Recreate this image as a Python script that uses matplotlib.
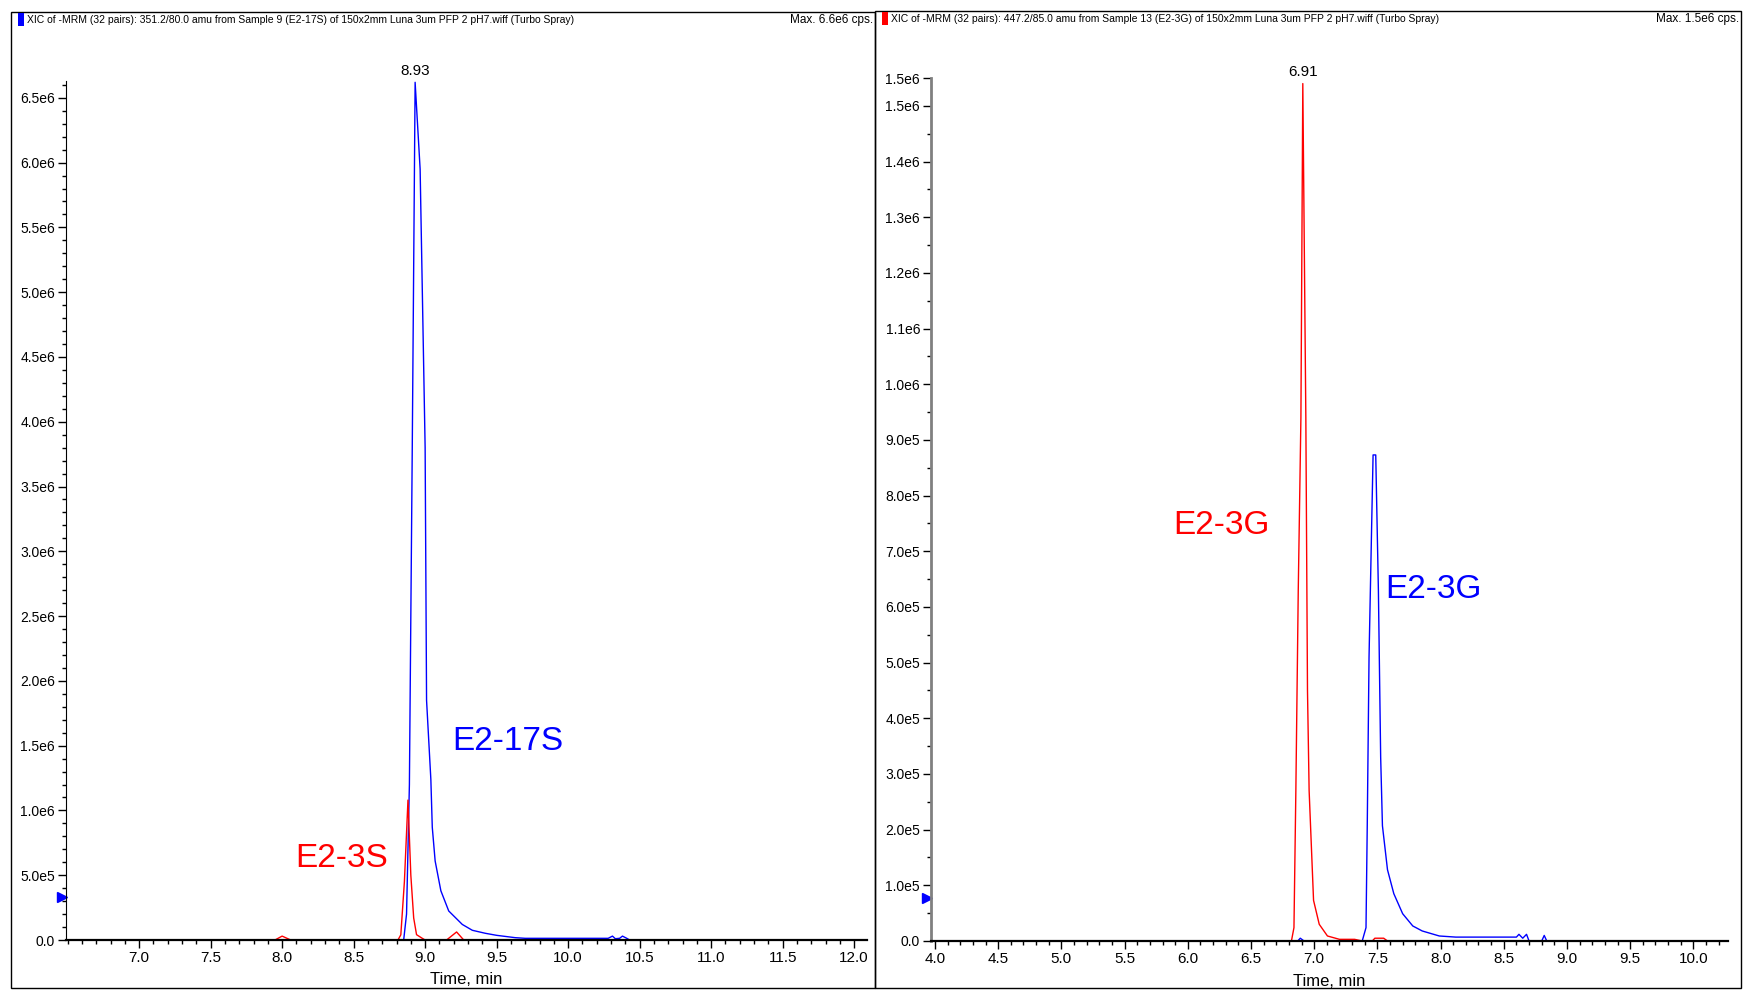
import matplotlib
matplotlib.use('Agg')
import matplotlib.pyplot as plt
import matplotlib.transforms as mtransforms
from matplotlib import font_manager
from matplotlib.patches import Rectangle
from matplotlib.ticker import FixedLocator, FixedFormatter, MultipleLocator

W, H = 1743, 991

# Sample 9 (E2-17S): 351.2/80.0 trace in blue, E2-3S trace in red
s9_blue_time = [6.49, 8.85, 8.87, 8.89, 8.91, 8.93, 8.965, 9.00, 9.01, 9.04, 9.05, 9.07,
                9.11, 9.165, 9.26, 9.33, 9.42, 9.50, 9.63, 9.70, 10.28, 10.31, 10.33,
                10.36, 10.38, 10.41, 10.43, 10.45, 12.09]
s9_blue_cps = [0, 0, 2.0e5, 1.2e6, 3.8e6, 6.62e6, 5.95e6, 3.8e6, 1.85e6, 1.24e6, 8.7e5, 6.1e5,
               3.8e5, 2.24e5, 1.2e5, 7.5e4, 5.2e4, 3.6e4, 1.8e4, 1.3e4, 1.3e4, 3.0e4, 1.0e4,
               1.3e4, 3.0e4, 1.3e4, 0, 0, 0]
s9_red_time = [6.49, 7.95, 8.00, 8.06, 8.81, 8.83, 8.855, 8.88, 8.90, 8.92, 8.94, 8.98, 9.00,
               9.15, 9.22, 9.27, 12.09]
s9_red_cps = [0, 0, 3.0e4, 0, 0, 4.0e4, 4.5e5, 1.08e6, 5.0e5, 1.7e5, 4.1e4, 1.3e4, 0,
              0, 6.2e4, 0, 0]

# Sample 13 (E2-3G): red and blue traces
s13_red_time = [3.97, 6.82, 6.84, 6.855, 6.874, 6.895, 6.91, 6.934, 6.947, 6.96, 6.995, 7.04,
                7.105, 7.20, 7.32, 7.38, 7.46, 7.48, 7.55, 7.58, 10.27]
s13_red_cps = [0, 0, 2.4e4, 2.7e5, 6.3e5, 9.4e5, 1.54e6, 9.4e5, 4.5e5, 2.7e5, 7.3e4, 3.0e4,
               9.0e3, 3.0e3, 3.0e3, 0, 0, 5.0e3, 5.0e3, 0, 0]
s13_blue_time = [3.97, 6.87, 6.89, 6.92, 7.38, 7.41, 7.42, 7.434, 7.455, 7.466, 7.487, 7.508,
                 7.526, 7.54, 7.58, 7.63, 7.70, 7.78, 7.855, 7.99, 8.12, 8.60, 8.62, 8.65,
                 8.68, 8.70, 8.80, 8.82, 8.84, 10.27]
s13_blue_cps = [0, 0, 5.0e3, 0, 0, 2.4e4, 2.1e5, 5.1e5, 7.5e5, 8.73e5, 8.73e5, 6.3e5,
                3.3e5, 2.07e5, 1.28e5, 8.5e4, 4.9e4, 2.7e4, 1.8e4, 9.0e3, 7.0e3, 7.0e3, 1.2e4, 5.0e3,
                1.2e4, 0, 0, 1.0e4, 0, 0]

left_xticks = [7.0, 7.5, 8.0, 8.5, 9.0, 9.5, 10.0, 10.5, 11.0, 11.5, 12.0]
left_yticks = [0, 5e5, 1.0e6, 1.5e6, 2.0e6, 2.5e6, 3.0e6, 3.5e6, 4.0e6, 4.5e6, 5.0e6, 5.5e6, 6.0e6, 6.5e6]
left_ylabels = ['0.0', '5.0e5', '1.0e6', '1.5e6', '2.0e6', '2.5e6', '3.0e6', '3.5e6', '4.0e6',
                '4.5e6', '5.0e6', '5.5e6', '6.0e6', '6.5e6']
right_xticks = [4.0, 4.5, 5.0, 5.5, 6.0, 6.5, 7.0, 7.5, 8.0, 8.5, 9.0, 9.5, 10.0]
right_yticks = [0, 1e5, 2e5, 3e5, 4e5, 5e5, 6e5, 7e5, 8e5, 9e5, 1.0e6, 1.1e6, 1.2e6, 1.3e6,
                1.4e6, 1.5e6, 1.55e6]
right_ylabels = ['0.0', '1.0e5', '2.0e5', '3.0e5', '4.0e5', '5.0e5', '6.0e5', '7.0e5', '8.0e5',
                 '9.0e5', '1.0e6', '1.1e6', '1.2e6', '1.3e6', '1.4e6', '1.5e6', '1.5e6']

left_header = ('XIC of -MRM (32 pairs): 351.2/80.0 amu from Sample 9 (E2-17S) of '
               '150x2mm Luna 3um PFP 2 pH7.wiff (Turbo Spray)')
right_header = ('XIC of -MRM (32 pairs): 447.2/85.0 amu from Sample 13 (E2-3G) of '
                '150x2mm Luna 3um PFP 2 pH7.wiff (Turbo Spray)')

names = {f.name for f in font_manager.fontManager.ttflist}
narrow = 'Liberation Sans Narrow' if 'Liberation Sans Narrow' in names else 'Liberation Sans'
plt.rcParams['font.family'] = [narrow, 'DejaVu Sans']

fig = plt.figure(figsize=(W / 100, H / 100), dpi=100)


def px_rect(x0, y0, x1, y1):
    return [x0 / W, 1 - y1 / H, (x1 - x0) / W, (y1 - y0) / H]


def panel(frame, box, header, max_text, box_color, xlim, ylim, xticks, yticks, ylabels,
          yminor, threshold, traces, labels, peak_trace):
    fx0, fy0, fx1, fy1 = frame
    fig.add_artist(Rectangle((fx0 / W, 1 - fy1 / H), (fx1 - fx0) / W, (fy1 - fy0) / H,
                             transform=fig.transFigure, fill=False, ec='black', lw=1))
    fig.add_artist(Rectangle(((fx0 + 7) / W, 1 - (fy0 + 14) / H), 6 / W, 13 / H,
                             transform=fig.transFigure, fc=box_color, ec='none'))
    fig.text((fx0 + 16) / W, 1 - (fy0 + 8) / H, header, fontsize=7.5, va='center', ha='left')
    fig.text((fx1 - 2) / W, 1 - (fy0 + 8) / H, max_text, fontsize=8.5, va='center', ha='right')

    ax = fig.add_axes(px_rect(*box))
    for t, v, c in traces:
        ax.plot(t, v, color=c, lw=1)
    ax.set_xlim(*xlim)
    ax.set_ylim(*ylim)
    for s in ('top', 'right'):
        ax.spines[s].set_visible(False)
    # keep the zero baseline of the traces hidden under the time axis
    ax.spines['bottom'].set_linewidth(1.6)
    ax.xaxis.set_major_locator(FixedLocator(xticks))
    ax.xaxis.set_major_formatter(FixedFormatter([f'{x:.1f}' for x in xticks]))
    ax.xaxis.set_minor_locator(MultipleLocator(0.1))
    ax.yaxis.set_major_locator(FixedLocator(yticks))
    ax.yaxis.set_major_formatter(FixedFormatter(ylabels))
    ax.yaxis.set_minor_locator(MultipleLocator(yminor))
    ax.tick_params(which='major', direction='out', length=6, width=1, pad=2)
    ax.tick_params(which='minor', direction='out', length=3, width=1)
    ax.tick_params(axis='x', labelsize=11)
    ax.tick_params(axis='y', labelsize=10)
    ax.set_xlabel('Time, min', fontsize=12)
    ax.xaxis.label.set_va('center')
    ax.xaxis.set_label_coords(0.5, -40 / (box[3] - box[1]))

    # threshold marker on the intensity axis
    shift = mtransforms.offset_copy(ax.transData, fig=fig, x=-4, y=0, units='dots')
    ax.plot([xlim[0]], [threshold], marker='>', color='blue', ms=7, clip_on=False,
            transform=shift, lw=0)

    # retention time of the tallest peak
    pt, pv = peak_trace
    i = max(range(len(pv)), key=lambda k: pv[k])
    ax.annotate(f'{pt[i]:.2f}', (pt[i], pv[i]), xytext=(0, 3), textcoords='offset points',
                ha='center', va='bottom', fontsize=11)

    for text, x, y, c in labels:
        ax.text(x, y, text, color=c, fontsize=24, ha='center', va='center')
    return ax


panel(frame=(11, 12, 875, 988), box=(66.2, 81, 867, 940), header=left_header,
      max_text='Max. 6.6e6 cps.', box_color='blue', xlim=(6.49, 12.09), ylim=(0, 6.63e6),
      xticks=left_xticks, yticks=left_yticks, ylabels=left_ylabels, yminor=1e5,
      threshold=3.3e5,
      traces=[(s9_blue_time, s9_blue_cps, 'blue'), (s9_red_time, s9_red_cps, 'red')],
      labels=[('E2-17S', 9.575, 1.53e6, 'blue'), ('E2-3S', 8.415, 6.26e5, 'red')],
      peak_trace=(s9_blue_time, s9_blue_cps))

ax2 = panel(frame=(875, 11, 1741, 988), box=(931.2, 78, 1727.5, 941), header=right_header,
            max_text='Max. 1.5e6 cps.', box_color='red', xlim=(3.97, 10.27), ylim=(0, 1.55e6),
            xticks=right_xticks, yticks=right_yticks, ylabels=right_ylabels, yminor=5e4,
            threshold=7.7e4,
            traces=[(s13_blue_time, s13_blue_cps, 'blue'), (s13_red_time, s13_red_cps, 'red')],
            labels=[('E2-3G', 6.27, 7.47e5, 'red'), ('E2-3G', 7.945, 6.31e5, 'blue')],
            peak_trace=(s13_red_time, s13_red_cps))
ax2.spines['left'].set_color('#808080')
ax2.spines['left'].set_linewidth(2)

fig.savefig('out.png', dpi=100)
